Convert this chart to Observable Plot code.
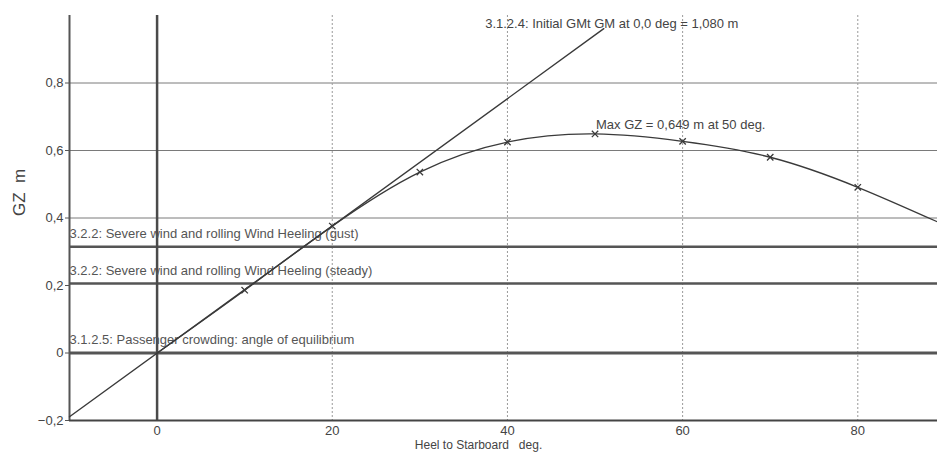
<!DOCTYPE html>
<html><head><meta charset="utf-8">
<script src="https://cdn.jsdelivr.net/npm/d3@7"></script>
<script src="https://cdn.jsdelivr.net/npm/@observablehq/plot@0.6"></script>
<style>body{margin:0;background:#fff;} svg{display:block}</style>
</head><body><div id="chart"></div>
<script>
// GZ curve
const heel = [0, 10, 20, 30, 40, 50, 60, 70, 80, 90];
const gz = [0, 0.186, 0.376, 0.536, 0.625, 0.649, 0.627, 0.580, 0.491, 0.378];
const markerHeel = [10, 20, 30, 40, 50, 60, 70, 80];
const markerGz = [0.186, 0.376, 0.536, 0.625, 0.649, 0.627, 0.580, 0.491];
// Initial GM line
const gmHeel = [-10, 51];
const gmGz = [-0.189, 0.961];
const gmLabel = "3.1.2.4: Initial GMt GM at 0,0 deg = 1,080 m";
// Max GZ annotation
const maxHeel = [50];
const maxGz = [0.649];
const maxLabel = "Max GZ = 0,649 m at 50 deg.";
// Criteria lines
const critLabels = [
  "3.2.2: Severe wind and rolling Wind Heeling (gust)",
  "3.2.2: Severe wind and rolling Wind Heeling (steady)",
  "3.1.2.5: Passenger crowding: angle of equilibrium"
];
const critValues = [0.315, 0.206, 0];
// Axes
const xTicks = [0, 20, 40, 60, 80];
const yTicks = [-0.2, 0, 0.2, 0.4, 0.6, 0.8];
const yGrid = [0.4, 0.6, 0.8];
const xGrid = [20, 40, 60, 80];
const xLabel = "Heel to Starboard   deg.";
const yLabel = "GZ  m";

const curve = heel.map((h, i) => ({heel: h, gz: gz[i]}));
const markers = markerHeel.map((h, i) => ({heel: h, gz: markerGz[i]}));
const gmLine = gmHeel.map((h, i) => ({heel: h, gz: gmGz[i]}));
const crit = critLabels.map((l, i) => ({label: l, gz: critValues[i]}));
const fmt = d => d === 0 ? "0" : d3.format(".1f")(d).replace(".", ",");
const ink = "#3a3a3a";

const chart = Plot.plot({
  width: 937, height: 453,
  marginLeft: 69, marginRight: 0, marginTop: 15, marginBottom: 33,
  x: {domain: [-10, 89.1]},
  y: {domain: [-0.2, 1.0]},
  style: {fontFamily: "'Liberation Sans', Arial, sans-serif", fontSize: "13px", color: "#444", background: "#fff"},
  marks: [
    Plot.ruleY(yGrid, {stroke: "#7a7a7a", strokeWidth: 1}),
    Plot.ruleX(xGrid, {stroke: "#9a9a9a", strokeWidth: 1, strokeDasharray: "2,2"}),
    Plot.ruleY(crit.slice(0, 2), {y: "gz", stroke: "#555", strokeWidth: 2.5}),
    Plot.ruleY(crit.slice(2), {y: "gz", stroke: "#555", strokeWidth: 3}),
    Plot.ruleX([0], {stroke: "#4a4a4a", strokeWidth: 2.5}),
    Plot.ruleX([-10], {stroke: "#555", strokeWidth: 2}),
    Plot.ruleY([-0.2], {stroke: "#444", strokeWidth: 2}),
    Plot.text(crit, {x: () => -10, y: "gz", text: "label", textAnchor: "start", dy: -13, fill: "#555", fontSize: 13}),
    Plot.line(gmLine, {x: "heel", y: "gz", stroke: ink, strokeWidth: 1.4}),
    Plot.line(curve, {x: "heel", y: "gz", stroke: ink, strokeWidth: 1.3, curve: "natural", clip: true}),
    Plot.dot(markers, {x: "heel", y: "gz", symbol: "times", r: 3, stroke: ink, strokeWidth: 1.3}),
    Plot.text(gmLine.slice(1), {x: "heel", y: "gz", text: () => gmLabel, textAnchor: "middle", dx: 8, dy: -5, fill: "#444", fontSize: 13}),
    Plot.text(maxHeel.map((h, i) => ({heel: h, gz: maxGz[i]})), {x: "heel", y: "gz", text: () => maxLabel, textAnchor: "start", dx: 1, dy: -9, fill: "#444", fontSize: 13}),
    Plot.axisY(yTicks, {tickFormat: fmt, tickSize: 4, tickPadding: 2, label: null, fontSize: 13, stroke: "#555"}),
    Plot.axisX(xTicks, {tickSize: 0, tickPadding: 5, label: null, fontSize: 13}),
    Plot.text([yLabel], {text: d => d, frameAnchor: "left", dx: -50, dy: -2, rotate: -90, fontSize: 17, fill: "#444"}),
    Plot.text([xLabel], {text: d => d, frameAnchor: "bottom", dx: -25, dy: 28, fontSize: 12, fill: "#444"})
  ]
});
document.getElementById("chart").appendChild(chart);
</script>
</body></html>
